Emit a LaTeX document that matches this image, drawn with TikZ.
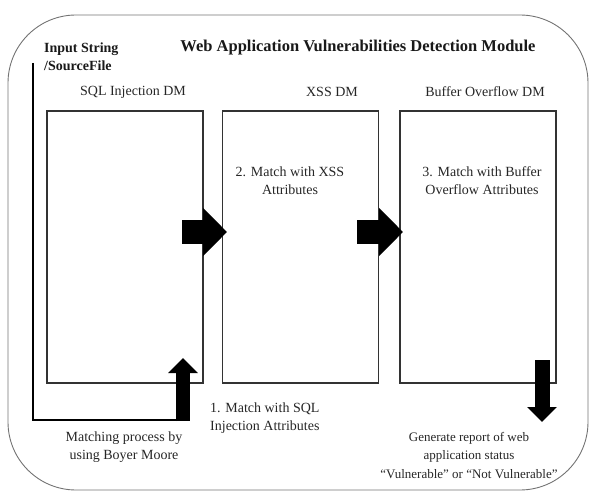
\documentclass[tikz,border=0pt]{standalone}
\usepackage{fontspec}
\setmainfont{Liberation Serif}
\usetikzlibrary{arrows.meta,calc}
\begin{document}
\begin{tikzpicture}[x=1pt,y=-1pt,
  frame/.style={draw=black!55, line width=0.9pt, rounded corners=68pt},
  module/.style={draw=black!80, line width=1.1pt, minimum width=156pt, minimum height=272pt, inner sep=0pt},
  txt/.style={font=\fontsize{14}{18.5}\selectfont, text=black!85, inner sep=0pt, align=center},
  boldtxt/.style={txt, font=\fontsize{14}{18}\bfseries\selectfont, text=black!90},
  flowline/.style={draw=black, line width=2pt},
  blockright/.style={line width=24pt, -{Triangle[length=24pt,width=47pt]}},
  blockvert/.style={line width=14pt, -{Triangle[length=15pt,width=29pt]}}]
\useasboundingbox (0,0) rectangle (590,492);

% outer module frame
\draw[frame] (8,15) rectangle (588,490);

% headings
\node[boldtxt, font=\fontsize{16.5}{19}\bfseries\selectfont] (title) at (358,48)
  {Web Application Vulnerabilities Detection Module};
\node[boldtxt, anchor=west, align=left] (input) at (44,57) {Input String\\/SourceFile};

% the three detection modules
\node[module] (sql) at (125,247) {};
\node[module] (xss) at (300.5,247) {};
\node[module] (bof) at (478,247) {};

\node[txt] (sqlname) at (133,92) {SQL Injection DM};
\node[txt] (xssname) at (332,92) {XSS DM};
\node[txt] (bofname) at (485,92) {Buffer Overflow DM};

\node[txt] (xssstep) at (290,180.5) {2. Match with XSS\\Attributes};
\node[txt] (bofstep) at (482,180.5) {3. Match with Buffer\\Overflow Attributes};

% input feed into the SQL module
\coordinate (feedtop) at (33,63);
\coordinate (feedend) at (183,420);
\coordinate (feedtip) at (183,358);
\draw[flowline] (feedtop) |- ($(feedend)+(7,0)$);
\draw[blockvert] ($(feedend)+(0,1)$) -- (feedtip);

% flow between modules
\coordinate (a1s) at (182,232);
\coordinate (a1e) at (227,232);
\coordinate (a2s) at (357,232);
\coordinate (a2e) at (403,232);
\draw[blockright] (a1s) -- (a1e);
\draw[blockright] (a2s) -- (a2e);

% report output
\coordinate (outs) at (542,360);
\coordinate (oute) at (542,422);
\draw[blockvert, line width=15pt] (outs) -- (oute);

% captions
\node[txt, anchor=west, align=left] (sqlstep) at (210,418) {1. Match with SQL\\Injection Attributes};
\node[txt] (matching) at (124,447) {Matching process by\\using Boyer Moore};
\node[txt, font=\fontsize{13}{18.5}\selectfont] (report) at (469,455.5)
  {Generate report of web\\application status\\“Vulnerable” or “Not Vulnerable”};
\end{tikzpicture}
\end{document}
